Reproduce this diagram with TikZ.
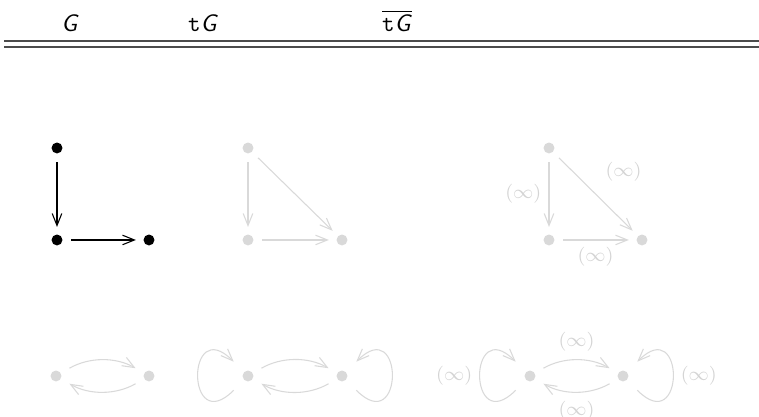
\documentclass[tikz,border=0pt]{standalone}
\usepackage{amsmath,amssymb}
\usetikzlibrary{arrows.meta,positioning}
\begin{document}
\begin{tikzpicture}[x=0.42pt, y=0.42pt, font=\sffamily,
  >={Straight Barb[length=5pt,width=4pt]},
  dot/.style={circle, fill=black, inner sep=0pt, minimum size=4.6pt},
  pale/.style={fill=black!15},
  edge/.style={->, line width=0.45pt, shorten <=3.4pt, shorten >=3pt},
  paleedge/.style={edge, draw=black!15},
  lab/.style={text=black!17, font=\footnotesize, inner sep=1pt},
  rule/.style={line width=0.5pt, draw=black!70}]
\useasboundingbox (0,0) rectangle (759,417);

% --- Intestazione ---
\node[anchor=base] (hG) at (70,385) {\textit{G}};
\node[anchor=base] (htG) at (203,385) {\texttt{t}\textit{G}};
\node[anchor=base] (hbar) at (397,385) {$\overline{\mbox{\texttt{t}\textsf{\textit{G}}}}$};
\draw[rule] (4,376) -- (759,376);
\draw[rule] (4,370) -- (759,370);

% --- Punti ---
\foreach \n/\x/\y in {g1/57/269, g2/57/177, g3/149/177}{
  \node[dot] (\n) at (\x,\y) {};
}
\foreach \n/\x/\y in {t1/248/269, t2/248/177, t3/342/177,
                      b1/549/269, b2/549/177, b3/642/177,
                      p1/56/41, p2/149/41, q1/248/41, q2/342/41,
                      r1/530/41, r2/623/41}{
  \node[dot, pale] (\n) at (\x,\y) {};
}

% --- Archi in alto ---
\draw[edge] (g1) -- (g2);
\draw[edge] (g2) -- (g3);
\draw[paleedge] (t1) -- (t2);
\draw[paleedge] (t2) -- (t3);
\draw[paleedge] (t1) -- (t3);
\draw[paleedge] (b1) -- node[lab, left=2pt] {$(\infty)$} (b2);
\draw[paleedge] (b2) -- node[lab, below=2pt] {$(\infty)$} (b3);
\draw[paleedge] (b1) -- node[lab, above right=4pt and 3pt] {$(\infty)$} (b3);

% --- Archi in basso ---
\draw[paleedge, shorten <=4pt, shorten >=4pt] (p1) to[bend left=30] (p2);
\draw[paleedge, shorten <=4pt, shorten >=4pt] (p2) to[bend left=30] (p1);
\draw[paleedge, shorten <=4pt, shorten >=4pt] (q1) to[bend left=30] (q2);
\draw[paleedge, shorten <=4pt, shorten >=4pt] (q2) to[bend left=30] (q1);
\draw[paleedge, shorten <=6pt, shorten >=6pt] (q1) .. controls +(225:88) and +(135:88) .. (q1);
\draw[paleedge, shorten <=6pt, shorten >=6pt] (q2) .. controls +(-45:88) and +(45:88) .. (q2);
\draw[paleedge, shorten <=4pt, shorten >=4pt] (r1) to[bend left=30] node[lab, above=3pt] {$(\infty)$} (r2);
\draw[paleedge, shorten <=4pt, shorten >=4pt] (r2) to[bend left=30] node[lab, below=3pt] {$(\infty)$} (r1);
\draw[paleedge, shorten <=6pt, shorten >=6pt] (r1) .. controls +(225:88) and +(135:88) .. node[lab, left=3pt] {$(\infty)$} (r1);
\draw[paleedge, shorten <=6pt, shorten >=6pt] (r2) .. controls +(-45:88) and +(45:88) .. node[lab, right=3pt] {$(\infty)$} (r2);

\end{tikzpicture}
\end{document}
